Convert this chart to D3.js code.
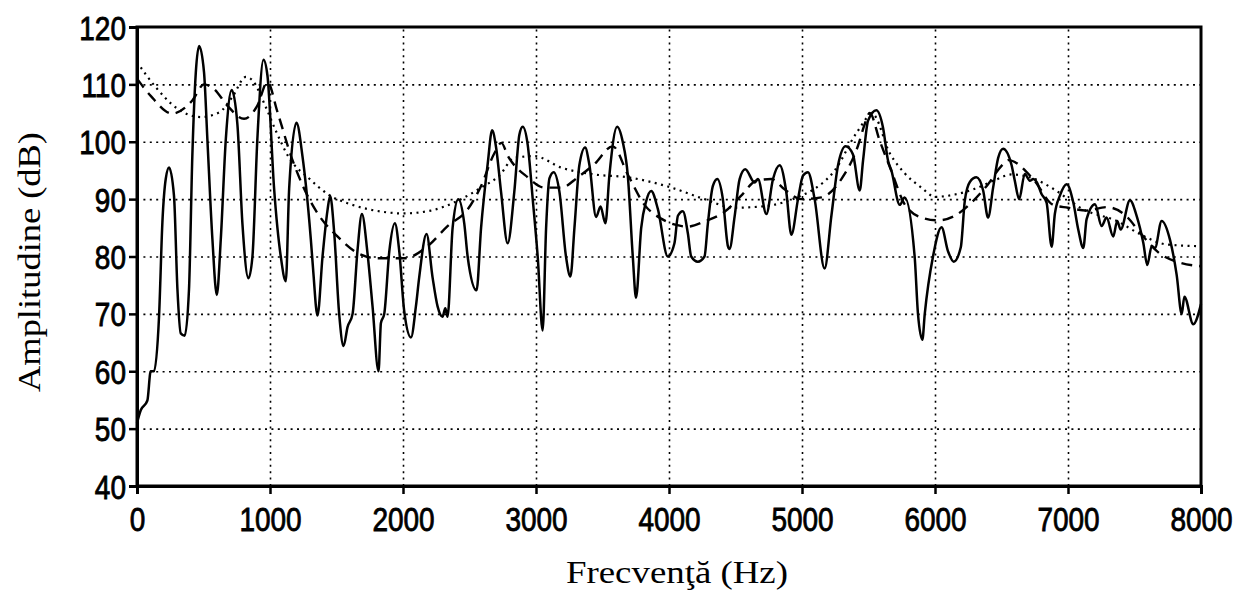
<!DOCTYPE html>
<html>
<head>
<meta charset="utf-8">
<script src="https://cdn.jsdelivr.net/npm/d3@7"></script>
<style>
    body { margin: 0; background: #fff; }
    svg { display: block; }
    .tick text { font-family: "Liberation Sans", Arial, sans-serif; font-size: 28px; fill: #000; stroke: #000; stroke-width: 0.7px; }
    .axis-title { font-family: "Liberation Serif", "Times New Roman", serif; font-size: 32px; fill: #000; }
    .grid line { stroke: #000; stroke-width: 1.6; stroke-dasharray: 2, 4.4; }
    .grid .domain { display: none; }
</style>
</head>
<body>
<div id="chart"></div>
<script>

///// Data

// spectrum (solid line): frequency in Hz, amplitude in dB
let spectrumFreq = [0, 28, 78, 103, 128, 166, 191, 216, 241, 278, 304, 329, 359, 391, 416, 442, 467, 504, 529, 567,
    600, 630, 668, 712, 755, 793, 838, 868, 905, 951, 981, 1031, 1081, 1119, 1144, 1199, 1244, 1270, 1307, 1325,
    1357, 1395, 1432, 1452, 1482, 1520, 1553, 1583, 1621, 1658, 1691, 1733, 1771, 1816, 1834, 1859, 1897, 1939, 1972, 2009,
    2060, 2097, 2122, 2177, 2222, 2260, 2297, 2318, 2335, 2373, 2416, 2461, 2486, 2553, 2587, 2637, 2670, 2700, 2737, 2787,
    2837, 2875, 2900, 2938, 2975, 3013, 3050, 3076, 3101, 3133, 3176, 3226, 3259, 3289, 3326, 3369, 3402, 3452, 3485, 3522,
    3552, 3610, 3652, 3690, 3728, 3752, 3791, 3828, 3866, 3916, 3991, 4041, 4067, 4104, 4142, 4167, 4217, 4267, 4292, 4330,
    4363, 4405, 4443, 4455, 4493, 4531, 4573, 4644, 4669, 4732, 4782, 4832, 4882, 4920, 4970, 5008, 5045, 5095, 5170, 5221,
    5271, 5328, 5383, 5434, 5459, 5497, 5559, 5609, 5647, 5672, 5735, 5772, 5847, 5872, 5905, 5923, 5985, 6049, 6098, 6141,
    6194, 6224, 6262, 6312, 6362, 6399, 6437, 6475, 6512, 6575, 6600, 6633, 6675, 6713, 6738, 6764, 6801, 6839, 6877, 6901,
    6939, 6990, 7040, 7077, 7115, 7140, 7203, 7253, 7290, 7340, 7370, 7396, 7466, 7516, 7566, 7596, 7629, 7654, 7704, 7767,
    7817, 7855, 7875, 7942, 8000];
let spectrumAmp = [51, 53.2, 54.9, 60, 60, 69.7, 86, 93.5, 95.5, 90.6, 74.3, 66.6, 66.2, 74.3, 97.5, 112, 116.7, 112.1, 100.5, 83,
    73.3, 83, 100.5, 109, 103, 85.6, 76.2, 80, 100.5, 114.3, 111.5, 91.8, 80, 75.7, 91.8, 103.3, 97.5, 92.4, 83, 77.5,
    69.7, 80, 88, 90.6, 84.4, 70, 64.4, 67.7, 70, 81.1, 87.4, 80.6, 71.3, 60, 68.4, 70, 80.9, 85.8, 80.9, 70.5,
    65.9, 71.3, 76.4, 83.9, 76.4, 71.3, 69.5, 71, 69.5, 85, 90, 85.7, 80, 74.1, 85, 96.2, 102, 99, 91.3, 82.3,
    91.3, 101.2, 102.6, 99.4, 90.1, 79.9, 67.1, 85, 93.6, 94.7, 91.3, 79.9, 76.5, 85, 95.9, 99, 95.9, 86.9, 88.7, 85.8,
    94.2, 102.6, 100, 94.2, 79.9, 72.8, 85, 89.6, 91.4, 88.3, 80, 82.3, 87.1, 87.9, 84, 80, 79.1, 80, 85.7, 92.3,
    93.5, 90, 81.8, 81.3, 86.9, 93.5, 95.2, 92.9, 93.5, 87.4, 93.5, 95.9, 91.2, 83.8, 90, 94.1, 94.7, 90, 77.9, 87.1,
    95.9, 99.2, 97.8, 91.5, 96.7, 103.7, 105.5, 102.5, 96.7, 95, 89, 90.3, 80, 70, 65.5, 70, 80, 85.1, 80.9, 79.1,
    81.6, 89.7, 93, 93.8, 91.5, 86.8, 92, 97.2, 98.8, 96, 93.2, 90, 94.4, 93.2, 93.5, 93, 90.9, 89.4, 81.7, 87.4,
    90.6, 92.6, 89.4, 84.7, 81.5, 86.5, 89.1, 85.3, 86.8, 83.5, 86.2, 84.7, 89.8, 87.1, 82.4, 78.5, 81.8, 81.5, 86.2, 82.9,
    76.8, 70, 73, 68.2, 71.7];

// envelope (dashed line)
let dashedFreq = [0, 103, 266, 416, 504, 579, 679, 805, 905, 981, 1056, 1157, 1282, 1370, 1507, 1658, 1808, 2009, 2185, 2335,
    2486, 2587, 2687, 2740, 2787, 2938, 3063, 3189, 3314, 3439, 3577, 3690, 3816, 3941, 4054, 4141, 4267, 4418, 4543, 4656,
    4769, 4869, 4995, 5146, 5296, 5421, 5472, 5509, 5584, 5672, 5772, 5898, 6023, 6149, 6274, 6399, 6500, 6550, 6738, 6889,
    7000, 7140, 7290, 7440, 7540, 7691, 7816, 8000];
let dashedAmp = [111, 108, 104.9, 107.2, 110, 109.2, 106.3, 104, 106.3, 110.4, 105.2, 97.6, 90.6, 87.1, 83.5, 80.6, 79.7, 79.7, 81.8, 85.3,
    88.2, 92.3, 98, 99.8, 97.6, 93.8, 92, 92, 93.8, 96.1, 99.2, 94.3, 89, 86.6, 85.5, 85.2, 86.1, 87.8, 90.6, 93.2,
    93.5, 91.7, 90, 90.3, 93.5, 99.3, 103.1, 105, 100.2, 94.9, 89.1, 86.8, 86.3, 87.1, 89.4, 92.6, 95.8, 96.8, 93.5, 89,
    88.5, 88, 88.6, 87, 84.2, 80.5, 79.1, 78.3];

// envelope (dotted line)
let dottedFreq = [0, 141, 291, 479, 617, 717, 818, 868, 969, 1044, 1144, 1294, 1445, 1620, 1846, 1997, 2210, 2411, 2587, 2724,
    2837, 2988, 3189, 3439, 3690, 3991, 4280, 4480, 4731, 4982, 5095, 5246, 5409, 5530, 5660, 5772, 5898, 6000, 6149, 6300,
    6450, 6575, 6750, 6889, 7115, 7365, 7566, 7742, 8000];
let dottedAmp = [113.9, 109.5, 106, 104.3, 105.1, 107.8, 111.3, 110.7, 106, 101.9, 97.2, 93.6, 90.7, 89, 87.8, 87.5, 88, 89.7, 92, 94.1,
    97.2, 97.5, 95.5, 94.3, 93.8, 92.2, 89.9, 88.5, 88.8, 90.5, 91.8, 95, 101.5, 104.8, 98, 94.5, 92, 90.4, 90.8, 91.8,
    93.3, 94.3, 93.5, 91.8, 88.2, 86.2, 83.6, 82.1, 81.8];

let xTicks = [0, 1000, 2000, 3000, 4000, 5000, 6000, 7000, 8000];
let yTicks = [40, 50, 60, 70, 80, 90, 100, 110, 120];

let xTitle = "Frecvenţă (Hz)",
    yTitle = "Amplitudine (dB)";


///// D3

let margin = { top: 27, right: 38, bottom: 106, left: 137 },
    width = 1239 - margin.left - margin.right,
    height = 592 - margin.top - margin.bottom;

let x = d3.scaleLinear().domain([0, 8000]).range([0, width]);
let y = d3.scaleLinear().domain([40, 120]).range([height, 0]);

let svg = d3.select("#chart")
    .append("svg")
    .attr("width", 1239)
    .attr("height", 592)
    .append("g")
    .attr("transform", "translate(" + margin.left + "," + margin.top + ")");

// dotted grid
svg.append("g")
    .attr("class", "grid")
    .call(d3.axisLeft(y).tickValues(yTicks.slice(1, -1)).tickSize(-width).tickFormat(""));

svg.append("g")
    .attr("class", "grid")
    .attr("transform", "translate(0," + height + ")")
    .call(d3.axisBottom(x).tickValues(xTicks.slice(1, -1)).tickSize(-height).tickFormat(""));

function makeLine(fs, as) {
    let pts = fs.map(function(f, i) { return [f, as[i]]; });
    return d3.line()
        .x(function(d) { return x(d[0]); })
        .y(function(d) { return y(d[1]); })
        .curve(d3.curveMonotoneX)(pts);
}

// dotted envelope
svg.append("path")
    .attr("d", makeLine(dottedFreq, dottedAmp))
    .attr("fill", "none")
    .attr("stroke", "#000")
    .attr("stroke-width", 2.2)
    .attr("stroke-dasharray", "2,4.5");

// dashed envelope
svg.append("path")
    .attr("d", makeLine(dashedFreq, dashedAmp))
    .attr("fill", "none")
    .attr("stroke", "#000")
    .attr("stroke-width", 2.4)
    .attr("stroke-dasharray", "11,7");

// spectrum
svg.append("path")
    .attr("d", makeLine(spectrumFreq, spectrumAmp))
    .attr("fill", "none")
    .attr("stroke", "#000")
    .attr("stroke-width", 2.5)
    .attr("stroke-linejoin", "round");

// frame
svg.append("rect")
    .attr("width", width)
    .attr("height", height)
    .attr("fill", "none")
    .attr("stroke", "#000")
    .attr("stroke-width", 3);

// axes
let xAxis = svg.append("g")
    .attr("transform", "translate(0," + height + ")")
    .call(d3.axisBottom(x).tickValues(xTicks).tickSize(8).tickFormat(d3.format("d")));

let yAxis = svg.append("g")
    .call(d3.axisLeft(y).tickValues(yTicks).tickSize(8).tickFormat(d3.format("d")));

[xAxis, yAxis].forEach(function(a) {
    a.select(".domain").attr("stroke-width", 3);
    a.selectAll(".tick line").attr("stroke-width", 2.5);
});

// tall tick numbers, as in the original figure
xAxis.selectAll(".tick text")
    .attr("y", 0).attr("dy", null)
    .attr("transform", "translate(0,45) scale(1,1.2)");

yAxis.selectAll(".tick text")
    .attr("x", 0).attr("dy", null)
    .attr("transform", "translate(-11,12) scale(1,1.2)");

// text label for the x axis
svg.append("text")
    .attr("class", "axis-title")
    .attr("x", 540)
    .attr("y", height + 97)
    .attr("text-anchor", "middle")
    .attr("textLength", 222)
    .attr("lengthAdjust", "spacingAndGlyphs")
    .text(xTitle);

// text label for the y axis
svg.append("text")
    .attr("class", "axis-title")
    .attr("transform", "rotate(-90)")
    .attr("x", -235)
    .attr("y", -97)
    .attr("text-anchor", "middle")
    .attr("textLength", 260)
    .attr("lengthAdjust", "spacingAndGlyphs")
    .text(yTitle);

</script>
</body>
</html>
